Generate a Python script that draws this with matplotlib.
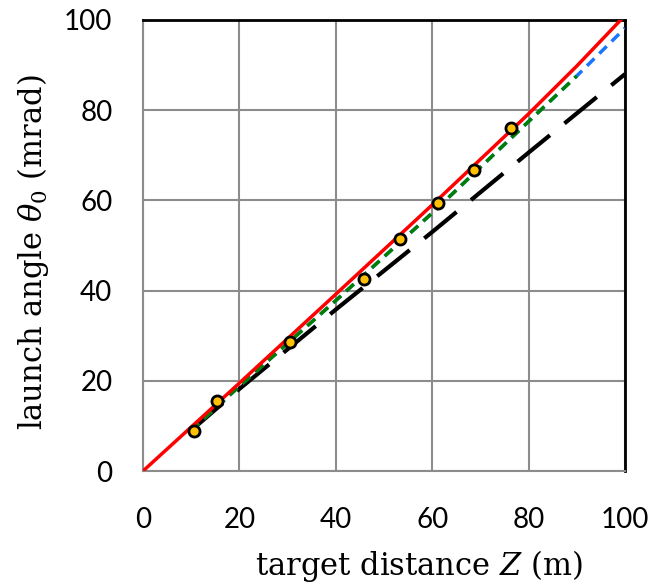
import numpy as np
import matplotlib
matplotlib.use('Agg')
import matplotlib.pyplot as plt

# values
z_data = [10.6, 15.3, 30.5, 45.8, 53.4, 61.1, 68.6, 76.3]
theta_data = [8.9, 15.5, 28.6, 42.6, 51.5, 59.5, 66.7, 76.0]

z_red = [0, 20, 40, 60, 80, 90, 100]
theta_red = [0, 19.5, 39.2, 59.0, 79.2, 89.8, 101.0]

z_blue = [10, 20, 40, 60, 80, 90, 100]
theta_blue = [9.0, 18.8, 37.8, 57.2, 77.5, 87.6, 98.2]

z_green = [10, 20, 40, 60, 80, 90]
theta_green = [9.0, 18.8, 37.8, 57.2, 77.5, 87.6]

z_black = [10, 20, 30, 40, 60, 80, 100]
theta_black = [9.0, 18.2, 27.0, 35.8, 53.0, 70.6, 88.0]

plt.rcParams['mathtext.fontset'] = 'custom'
plt.rcParams['mathtext.rm'] = 'DejaVu Serif'
plt.rcParams['mathtext.it'] = 'DejaVu Serif:italic'

fig = plt.figure(figsize=(6.52, 5.86), dpi=100)
ax = fig.add_axes([0.2193, 0.1962, 0.7393, 0.7697])

ax.plot(z_black, theta_black, color='black', lw=3, dashes=(10, 4.5), zorder=3)
ax.plot(z_blue, theta_blue, color='#1a75ff', lw=2.5, dashes=(3, 2), zorder=4)
ax.plot(z_green, theta_green, color='green', lw=2.5, dashes=(3, 2), zorder=5)
ax.plot(z_red, theta_red, color='red', lw=2.5, zorder=6)
ax.plot(z_data, theta_data, 'o', ms=8, mfc='#ffc000', mec='black', mew=2, zorder=7)

ax.set_xlim(0, 100)
ax.set_ylim(0, 100)
ax.set_xticks(np.arange(0, 101, 20))
ax.set_yticks(np.arange(0, 101, 20))
ax.grid(True, color='#8c8c8c', lw=1.5)
ax.set_axisbelow(True)
ax.tick_params(length=0, labelsize=20, pad=22)
ax.tick_params(axis='x', pad=26)
for lab in ax.get_xticklabels() + ax.get_yticklabels():
    lab.set_fontfamily('Lato')

for s in ['left', 'bottom']:
    ax.spines[s].set_color('#8c8c8c')
    ax.spines[s].set_linewidth(1.5)
for s in ['top', 'right']:
    ax.spines[s].set_color('black')
    ax.spines[s].set_linewidth(2)

ax.set_xlabel(r'target distance $Z$ (m)', family='DejaVu Serif', fontsize=22)
ax.xaxis.set_label_coords(0.572, -0.17)
ax.set_ylabel(r'launch angle $\theta_{\mathit{0}}$ (mrad)', family='DejaVu Serif', fontsize=22)
ax.yaxis.set_label_coords(-0.19, 0.486)

fig.savefig('out.png', dpi=100)
